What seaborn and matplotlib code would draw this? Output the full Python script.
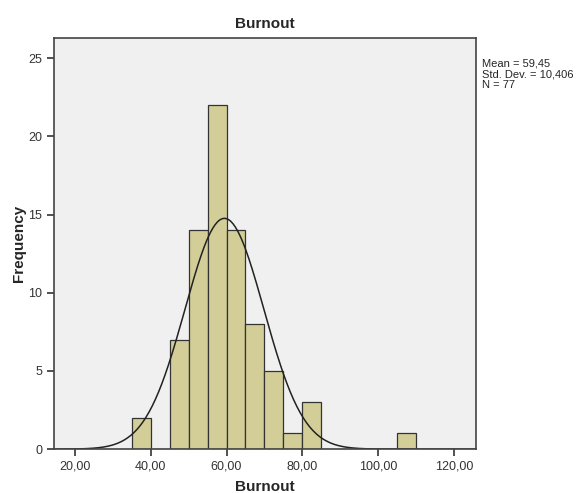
import numpy as np
import pandas as pd
import matplotlib
matplotlib.use("Agg")
import matplotlib.pyplot as plt
import seaborn as sns

# Histogram counts read from the SPSS output (bin width 5)
bin_starts = [35, 40, 45, 50, 55, 60, 65, 70, 75, 80, 85, 90, 95, 100, 105]
counts = [2, 0, 7, 14, 22, 14, 8, 5, 1, 3, 0, 0, 0, 0, 1]
mean_val = 59.45
sd_val = 10.406
n_val = 77
bin_width = 5
x_ticks = [20, 40, 60, 80, 100, 120]
x_tick_labels = ["20,00", "40,00", "60,00", "80,00", "100,00", "120,00"]
y_ticks = [0, 5, 10, 15, 20, 25]

sns.set_style("white")
plt.rcParams['font.family'] = ['Liberation Sans', 'DejaVu Sans']

df = pd.DataFrame({"Burnout": [s + bin_width / 2 for s in bin_starts], "count": counts})
edges = bin_starts + [bin_starts[-1] + bin_width]

fig = plt.figure(figsize=(5.76, 4.93), dpi=100)
ax = fig.add_axes([0.094, 0.089, 0.732, 0.834])
ax.set_facecolor("#F0F0F0")

sns.histplot(data=df, x="Burnout", weights="count", bins=edges, ax=ax,
             color="#D3CE98", alpha=1, edgecolor="#333333", linewidth=0.9)

# Normal curve scaled to the histogram
xs = np.linspace(14, 126, 400)
ys = n_val * bin_width / (sd_val * np.sqrt(2 * np.pi)) * np.exp(-0.5 * ((xs - mean_val) / sd_val) ** 2)
sns.lineplot(x=xs, y=ys, ax=ax, color="#222222", linewidth=1.1)

ax.set_xlim(14.5, 125.8)
ax.set_ylim(0, 26.3)
ax.set_xticks(x_ticks)
ax.set_xticklabels(x_tick_labels)
ax.set_yticks(y_ticks)
ax.tick_params(axis="both", direction="out", length=5, width=1.2, color="#333333",
               labelsize=9, labelcolor="#333333", bottom=True, left=True)

for sp in ax.spines.values():
    sp.set_color("#444444")
    sp.set_linewidth(1.2)

ax.set_title("Burnout", fontsize=11, fontweight="bold", pad=7)
ax.set_xlabel("Burnout", fontsize=11, fontweight="bold", labelpad=5)
ax.set_ylabel("Frequency", fontsize=11, fontweight="bold", labelpad=2)

fig.text(0.837, 0.882, "Mean = 59,45\nStd. Dev. = 10,406\nN = 77",
         fontsize=8, va="top", ha="left", linespacing=1.12)

plt.savefig("out.png", dpi=100)
